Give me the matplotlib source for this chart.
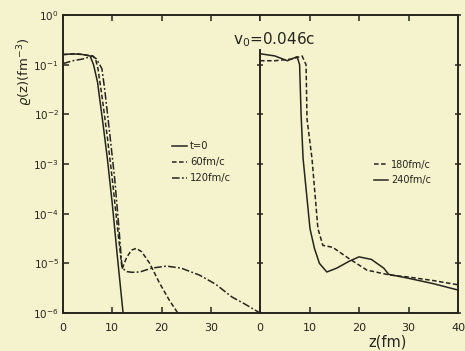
import matplotlib
matplotlib.use("Agg")
import matplotlib.pyplot as plt
from matplotlib.ticker import FixedLocator, NullLocator

# ---------------- data ----------------
# left panel
z_t0 = [0, 2, 4, 5.5, 6.2, 7, 8, 9, 10, 11, 12.2]
rho_t0 = [0.16, 0.165, 0.16, 0.15, 0.1, 0.045, 8e-3, 1.3e-3, 1.6e-4, 1.5e-5, 1e-6]

z_60 = [0, 3, 5, 6, 6.6, 7.1, 8, 9, 10, 11, 12, 12.9, 13.9, 14.9, 16, 17.6, 19.6, 21.6, 23.3]
rho_60 = [0.16, 0.165, 0.155, 0.15, 0.13, 0.083, 0.02, 3.5e-3, 5e-4, 6e-5, 7.7e-6,
          1.3e-5, 1.85e-5, 2e-5, 1.7e-5, 1e-5, 4e-6, 1.8e-6, 1e-6]

z_120 = [0, 2, 4, 6, 6.8, 7.9, 8.5, 9.5, 10.5, 11.3, 12, 13, 14, 15.6, 18, 21, 24,
         27.7, 31, 34.3, 37, 40]
rho_120 = [0.105, 0.12, 0.13, 0.15, 0.13, 0.083, 0.03, 4e-3, 5e-4, 6e-5, 8e-6,
           6.8e-6, 6.6e-6, 6.7e-6, 8e-6, 8.8e-6, 8e-6, 5.8e-6, 3.8e-6, 2.1e-6, 1.5e-6, 1e-6]

# right panel
z_180 = [0, 3, 6.5, 8.5, 9.3, 9.5, 10.5, 11.7, 12.7, 14.7, 17.8, 21.6, 26.3, 30, 35, 40]
rho_180 = [0.12, 0.12, 0.13, 0.15, 0.1, 8e-3, 1.3e-3, 5e-5, 2.3e-5, 2.1e-5, 1.28e-5,
           7.3e-6, 5.8e-6, 5.3e-6, 4.5e-6, 3.7e-6]

z_240 = [0, 3, 5.5, 7.5, 8.0, 8.3, 8.7, 10.1, 11, 12, 13.5, 15.5, 18, 20, 22.5, 25, 26,
         30, 35, 40]
rho_240 = [0.166, 0.15, 0.12, 0.145, 0.1, 1e-2, 1.3e-3, 5e-5, 2e-5, 1e-5, 6.7e-6,
           8e-6, 1.1e-5, 1.35e-5, 1.2e-5, 8e-6, 6e-6, 5e-6, 3.9e-6, 2.9e-6]

labels_left = ["t=0", "60fm/c", "120fm/c"]
labels_right = ["180fm/c", "240fm/c"]
x_ticks_left = [0, 10, 20, 30]
x_ticks_right = [0, 10, 20, 30, 40]
y_ticks = [1e-6, 1e-5, 1e-4, 1e-3, 1e-2, 1e-1, 1e0]
y_ticklabels = [r"$10^{-6}$", r"$10^{-5}$", r"$10^{-4}$", r"$10^{-3}$",
                r"$10^{-2}$", r"$10^{-1}$", r"$10^{0}$"]

# ---------------- style ----------------
BG = "#f5f3cd"
INK = "#26251d"
W, H = 465, 351

fig = plt.figure(figsize=(W / 100, H / 100), dpi=100, facecolor=BG)

def fx(px):
    return px / W

def fy(py):
    return 1 - py / H

bottom = fy(313)
height = (313 - 15) / H
axL = fig.add_axes([fx(63), bottom, (260 - 63) / W, height], facecolor=BG)
axR = fig.add_axes([fx(260), bottom, (458 - 260) / W, height], facecolor=BG)

dash = (0, (3.0, 1.6))
dashdot = (0, (5, 1.5, 1.2, 1.5))
lw = 1.1

lt0, = axL.plot(z_t0, rho_t0, color=INK, lw=lw, ls="-")
l60, = axL.plot(z_60, rho_60, color=INK, lw=lw, ls=dash)
l120, = axL.plot(z_120, rho_120, color=INK, lw=lw, ls=dashdot)

l180, = axR.plot(z_180, rho_180, color=INK, lw=lw, ls=dash)
l240, = axR.plot(z_240, rho_240, color=INK, lw=lw, ls="-")

for ax in (axL, axR):
    ax.set_yscale("log")
    ax.set_ylim(1e-6, 1e0)
    ax.set_xlim(0, 40)
    ax.yaxis.set_major_locator(FixedLocator(y_ticks))
    ax.yaxis.set_minor_locator(NullLocator())
    ax.xaxis.set_minor_locator(NullLocator())
    for s in ax.spines.values():
        s.set_color(INK)
        s.set_linewidth(1.4)
    ax.tick_params(colors=INK, labelsize=8, length=4, width=1.1, direction="in",
                   top=True)
    ax.tick_params(axis="x", pad=7)

axL.set_xticks(x_ticks_left + [40])
axL.set_xticklabels([str(v) for v in x_ticks_left] + [""])
axL.set_yticks(y_ticks)
axL.set_yticklabels(y_ticklabels)
axL.spines["right"].set_visible(False)
axL.tick_params(axis="y", right=False, left=True, labelsize=7.5, pad=3)

axR.set_xticks(x_ticks_right)
axR.set_xticklabels([str(v) for v in x_ticks_right])
axR.set_yticks(y_ticks)
axR.tick_params(axis="y", left=True, right=True, labelleft=False, direction="inout",
                length=5)
axR.spines["left"].set_bounds(1e-6, 0.2)

legL = axL.legend([lt0, l60, l120], labels_left, loc="upper left",
                  bbox_to_anchor=(103 / 197, 1 - (135 - 15) / 298),
                  frameon=False, fontsize=7.2, handlelength=1.5, handletextpad=0.3,
                  labelspacing=0.6, borderpad=0.1)
for t in legL.get_texts():
    t.set_color(INK)
legR = axR.legend([l180, l240], labels_right, loc="upper left",
                  bbox_to_anchor=(108 / 198, 1 - (154 - 15) / 298),
                  frameon=False, fontsize=7.0, handlelength=1.5, handletextpad=0.3,
                  labelspacing=0.55, borderpad=0.1)
for t in legR.get_texts():
    t.set_color(INK)

fig.text(fx(25), fy(72), r"$\varrho$(z)(fm$^{-3}$)", rotation=90, ha="center",
         va="center", fontsize=9.5, color=INK)
fig.text(fx(274), fy(40), r"v$_0$=0.046c", ha="center", va="center",
         fontsize=11, color=INK)
fig.text(fx(388), fy(342), "z(fm)", ha="center", va="center", fontsize=10.5,
         color=INK)

fig.savefig("out.png", dpi=100, facecolor=BG)
